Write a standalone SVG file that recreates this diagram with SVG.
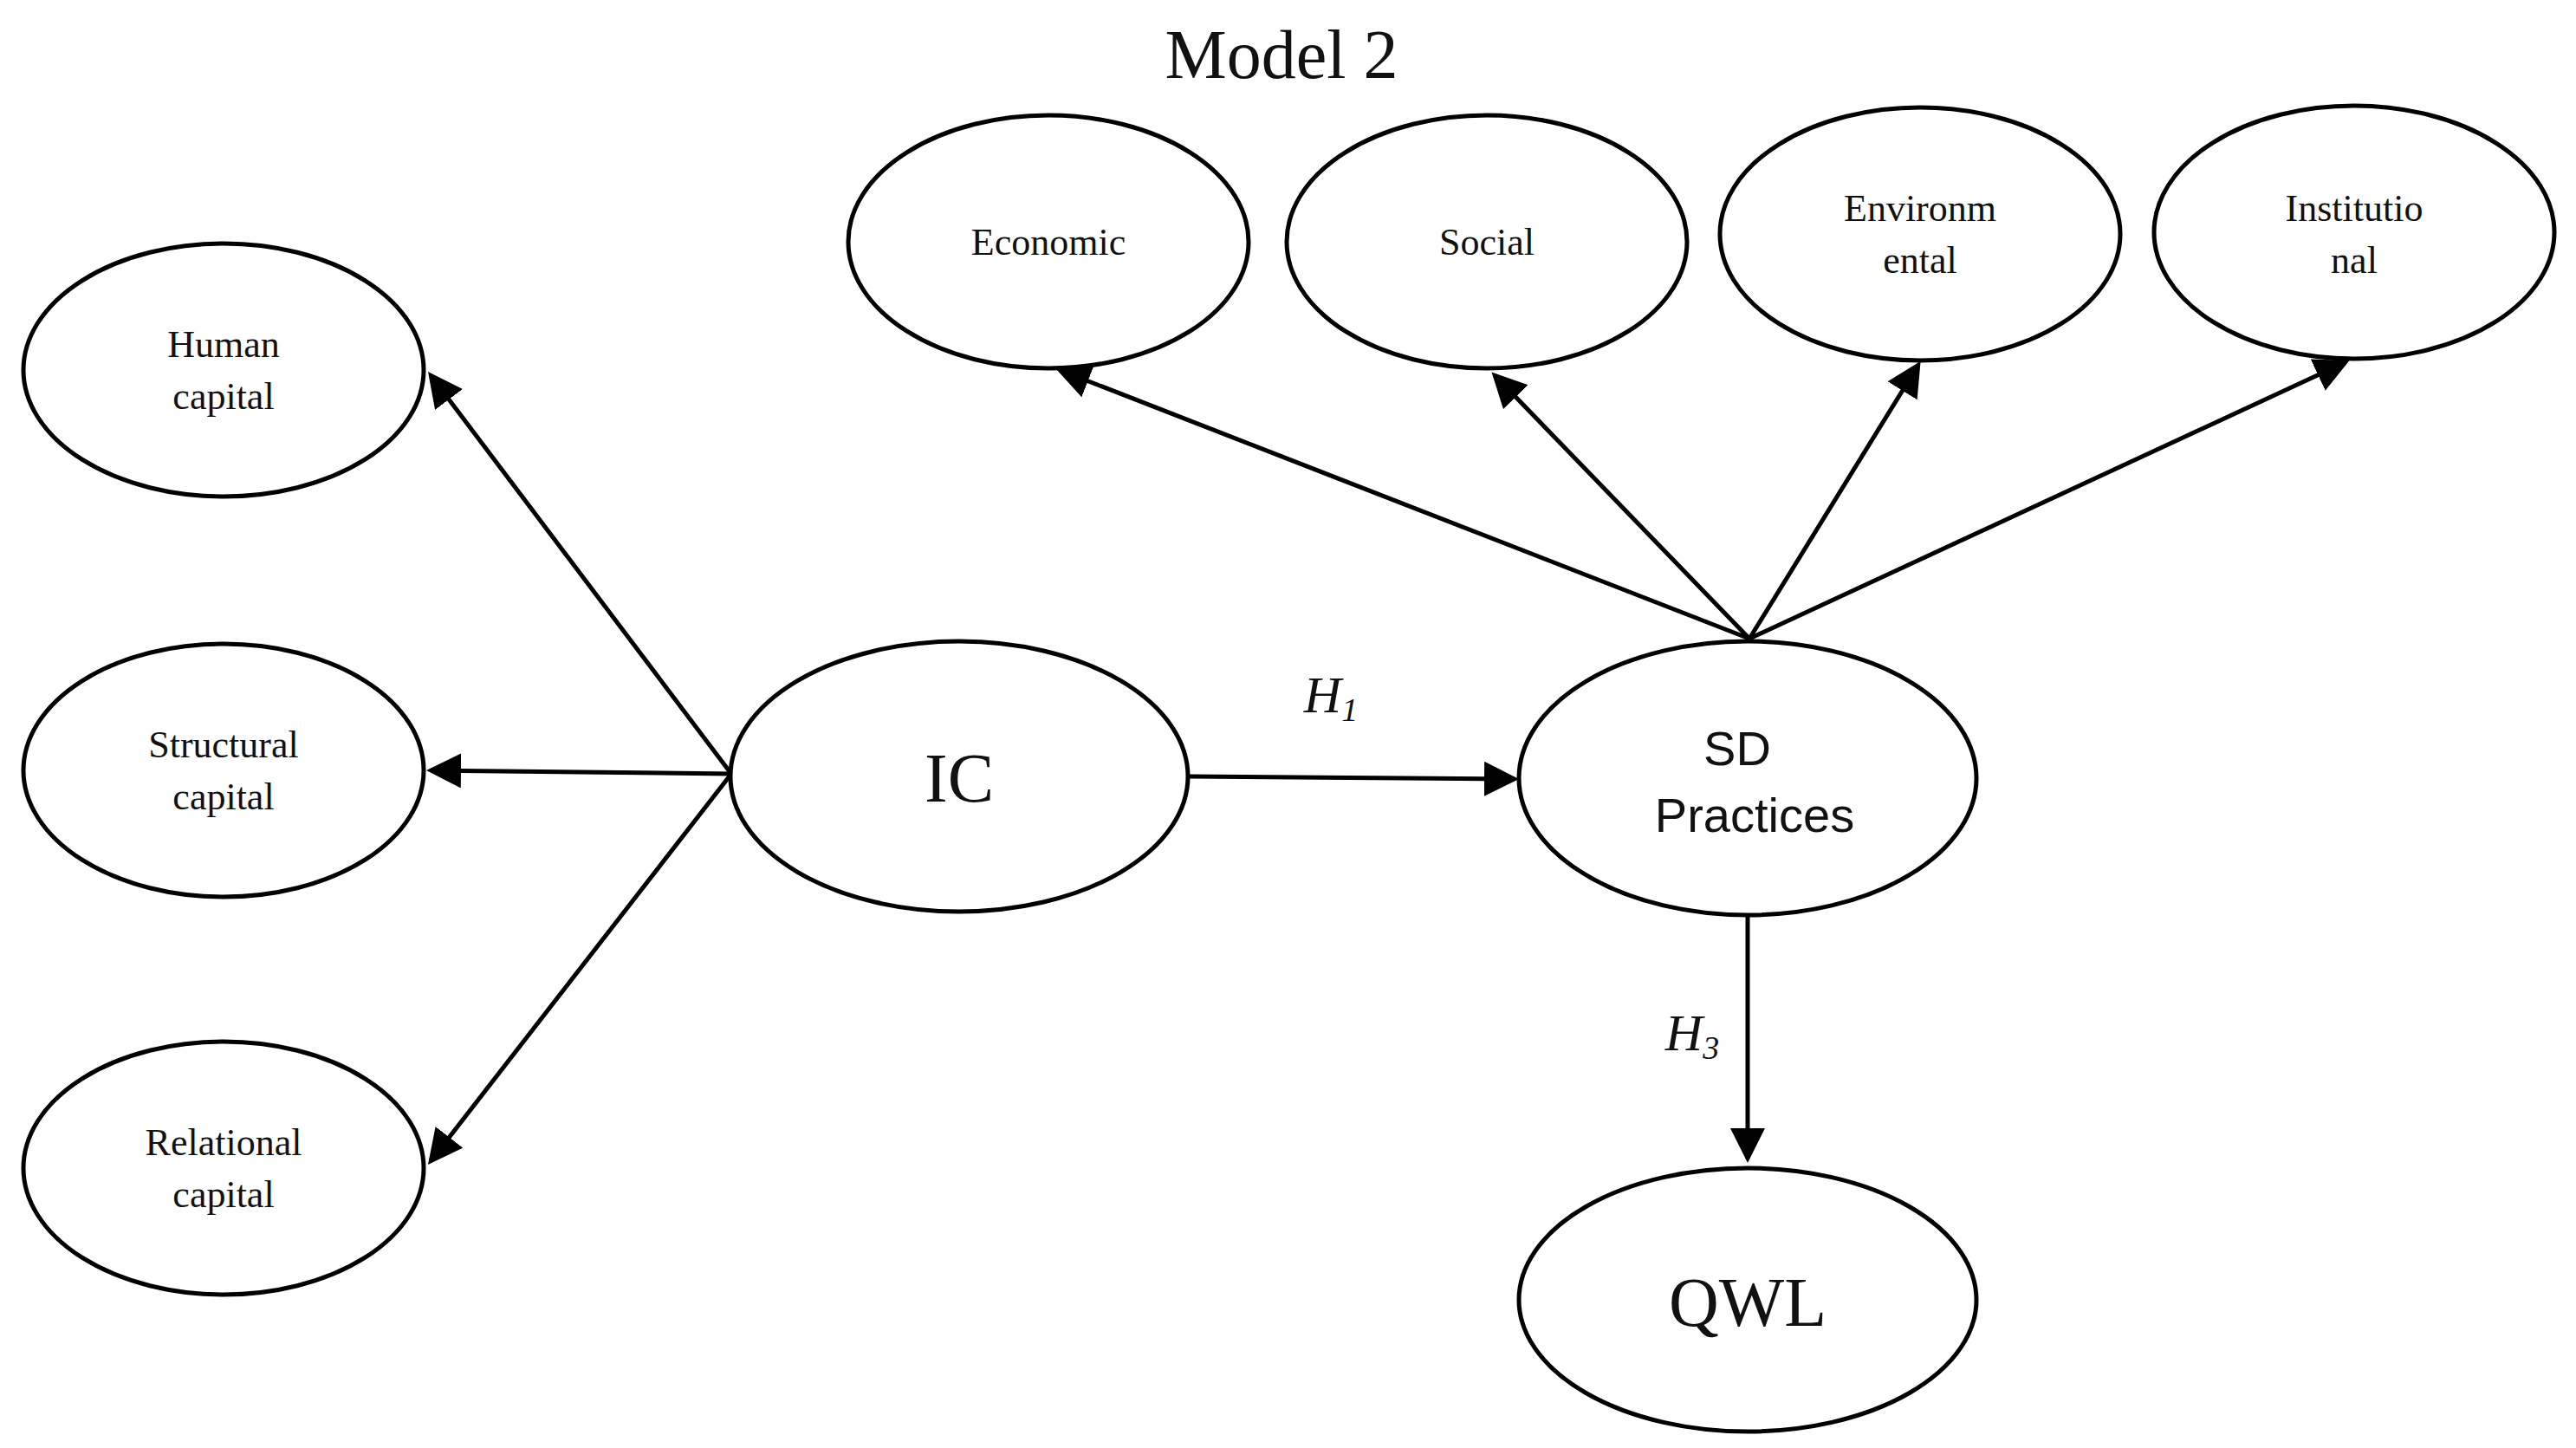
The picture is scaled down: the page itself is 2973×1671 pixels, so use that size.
<svg xmlns="http://www.w3.org/2000/svg" width="2973" height="1671" viewBox="0 0 2973 1671">
<style>
ellipse{fill:#fff;stroke:#000;stroke-width:5}
text{font-family:"Liberation Serif",serif;fill:#111;text-anchor:middle}
.s{font-size:44px}
.b{font-size:80px}
line{stroke:#000;stroke-width:5;marker-end:url(#a)}
</style>
<defs><marker id="a" markerWidth="8" markerHeight="8" refX="7" refY="4" orient="auto" markerUnits="strokeWidth"><path d="M0,0 L8,4 L0,8 z" fill="#000"/></marker></defs>
<text x="1479" y="90" style="font-size:80px">Model 2</text>
<g id="connectors">
<line x1="844" y1="893" x2="497" y2="433"/>
<line x1="844" y1="893" x2="497" y2="889"/>
<line x1="844" y1="893" x2="497" y2="1340"/>
<line x1="1373" y1="896" x2="1748" y2="899"/>
<line x1="2019" y1="737" x2="1223" y2="427"/>
<line x1="2019" y1="737" x2="1725" y2="433"/>
<line x1="2019" y1="737" x2="2214" y2="421"/>
<line x1="2019" y1="737" x2="2707" y2="418"/>
<line x1="2017" y1="1057" x2="2017" y2="1337"/>
<text x="1536" y="822" style="font-size:60px;font-style:italic">H<tspan font-size="38" dy="10">1</tspan></text>
<text x="1953" y="1212" style="font-size:60px;font-style:italic">H<tspan font-size="38" dy="10">3</tspan></text>
</g>
<g id="human"><ellipse cx="258" cy="427" rx="231" ry="146"/><text class="s" x="258" y="412">Human</text><text class="s" x="258" y="472">capital</text></g>
<g id="structural"><ellipse cx="258" cy="889" rx="231" ry="146"/><text class="s" x="258" y="874">Structural</text><text class="s" x="258" y="934">capital</text></g>
<g id="relational"><ellipse cx="258" cy="1348" rx="231" ry="146"/><text class="s" x="258" y="1333">Relational</text><text class="s" x="258" y="1393">capital</text></g>
<g id="ic"><ellipse cx="1107" cy="896" rx="264" ry="156"/><text class="b" x="1107" y="925">IC</text></g>
<g id="sd"><ellipse cx="2017" cy="898" rx="264" ry="158"/><text x="2005" y="883" style="font-family:'Liberation Sans',sans-serif;font-size:56px">SD</text><text x="2025" y="960" style="font-family:'Liberation Sans',sans-serif;font-size:56px">Practices</text></g>
<g id="qwl"><ellipse cx="2017" cy="1500" rx="264" ry="152"/><text class="b" x="2017" y="1530">QWL</text></g>
<g id="economic"><ellipse cx="1210" cy="279" rx="231" ry="146"/><text class="s" x="1210" y="294">Economic</text></g>
<g id="social"><ellipse cx="1716" cy="279" rx="231" ry="146"/><text class="s" x="1716" y="294">Social</text></g>
<g id="environmental"><ellipse cx="2216" cy="270" rx="231" ry="146"/><text class="s" x="2216" y="255">Environm</text><text class="s" x="2216" y="315">ental</text></g>
<g id="institutional"><ellipse cx="2717" cy="268" rx="231" ry="146"/><text class="s" x="2717" y="255">Institutio</text><text class="s" x="2717" y="315">nal</text></g>
</svg>
